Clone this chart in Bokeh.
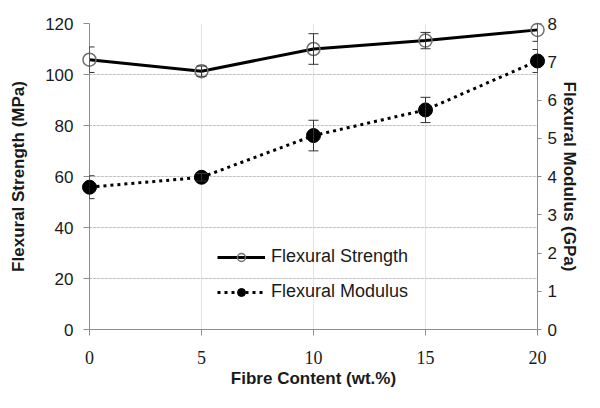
from bokeh.plotting import figure
from bokeh.models import (Range1d, LinearAxis, ColumnDataSource, Whisker, TeeHead,
                          Legend, LegendItem, FixedTicker, Grid)
from bokeh.embed import file_html
from bokeh.resources import INLINE

fibre = [0, 5, 10, 15, 20]
strength = [105.8, 101.3, 110.0, 113.3, 117.5]
strength_err = [5.0, 2.0, 6.0, 3.2, 4.5]
modulus = [3.72, 3.98, 5.07, 5.74, 7.02]
modulus_err = [0.3, 0.1, 0.4, 0.33, 0.3]

x_ticks = [0, 5, 10, 15, 20]
left_ticks = [0, 20, 40, 60, 80, 100, 120]
right_ticks = [0, 1, 2, 3, 4, 5, 6, 7, 8]

src_s = ColumnDataSource(dict(x=fibre, y=strength,
                              lo=[v - e for v, e in zip(strength, strength_err)],
                              hi=[v + e for v, e in zip(strength, strength_err)]))
src_m = ColumnDataSource(dict(x=fibre, y=modulus,
                              lo=[v - e for v, e in zip(modulus, modulus_err)],
                              hi=[v + e for v, e in zip(modulus, modulus_err)]))

p = figure(width=584, height=392, output_backend="svg", toolbar_location=None,
           x_range=Range1d(0, 20), y_range=Range1d(0, 120),
           min_border_left=89, min_border_right=47, min_border_top=23, min_border_bottom=63,
           y_axis_location=None, x_axis_location=None)
p.outline_line_color = None
p.background_fill_color = "white"
p.extra_y_ranges = {"mod": Range1d(0, 8)}

AX = "#8c8c8c"
TXT = "#1a1a1a"

ly = LinearAxis(ticker=FixedTicker(ticks=left_ticks), axis_label="Flexural Strength (MPa)")
bx = LinearAxis(ticker=FixedTicker(ticks=x_ticks), axis_label="Fibre Content (wt.%)")
ry = LinearAxis(y_range_name="mod", ticker=FixedTicker(ticks=right_ticks),
                axis_label="Flexural Modulus (GPa)")

for ax in (ly, bx, ry):
    ax.axis_line_color = AX
    ax.major_tick_line_color = AX
    ax.major_tick_in = 0
    ax.major_tick_out = 6
    ax.minor_tick_line_color = None
    ax.major_label_text_font = "Liberation Sans"
    ax.major_label_text_font_size = "17px"
    ax.major_label_text_color = TXT
    ax.axis_label_text_font = "Liberation Sans"
    ax.axis_label_text_font_style = "bold"
    ax.axis_label_text_font_size = "17px"
    ax.axis_label_text_color = TXT

bx.major_label_text_font = "Liberation Serif"
bx.major_label_text_font_size = "18px"
bx.major_label_standoff = 15
bx.axis_label_standoff = 2
ly.major_label_standoff = 10
ly.axis_label_standoff = 14
ry.major_tick_out = 4
ry.major_label_standoff = 6
ry.axis_label_standoff = 0

p.add_layout(ly, "left")
p.add_layout(bx, "below")
p.add_layout(ry, "right")

g = Grid(dimension=1, ticker=FixedTicker(ticks=left_ticks[1:]))
g.grid_line_color = "#b8b8b8"
g.grid_line_dash = "2 2"
g.grid_line_width = 1
p.add_layout(g)

l_s = p.line("x", "y", source=src_s, line_color="black", line_width=3)
l_m = p.line("x", "y", source=src_m, y_range_name="mod", line_color="black",
             line_width=3, line_dash="3 4")

sc_s = p.scatter("x", "y", source=src_s, marker="circle", size=13, fill_alpha=0,
                 line_color="#707070", line_width=1.5, level="overlay")
sc_m = p.scatter("x", "y", source=src_m, y_range_name="mod", marker="circle", size=14,
                 fill_color="black", line_color="black", level="overlay")

def whisk(src, **kw):
    return Whisker(base="x", lower="lo", upper="hi", source=src, level="overlay",
                   line_color="#333333", line_width=1,
                   upper_head=TeeHead(size=10, line_color="#333333", line_width=1),
                   lower_head=TeeHead(size=10, line_color="#333333", line_width=1), **kw)

p.add_layout(whisk(src_s))
p.add_layout(whisk(src_m, y_range_name="mod"))

leg = Legend(items=[LegendItem(label="Flexural Strength", renderers=[l_s, sc_s]),
                    LegendItem(label="Flexural Modulus", renderers=[l_m, sc_m])],
             location=(128, 27), orientation="vertical")
leg.border_line_color = None
leg.background_fill_alpha = 0
leg.padding = 0
leg.margin = 0
leg.spacing = 14
leg.glyph_width = 48
leg.glyph_height = 20
leg.label_height = 20
leg.label_standoff = 6
leg.label_text_font = "Liberation Sans"
leg.label_text_font_size = "18px"
leg.label_text_color = TXT
p.add_layout(leg, "center")

open("out.html", "w").write(file_html(p, INLINE))
